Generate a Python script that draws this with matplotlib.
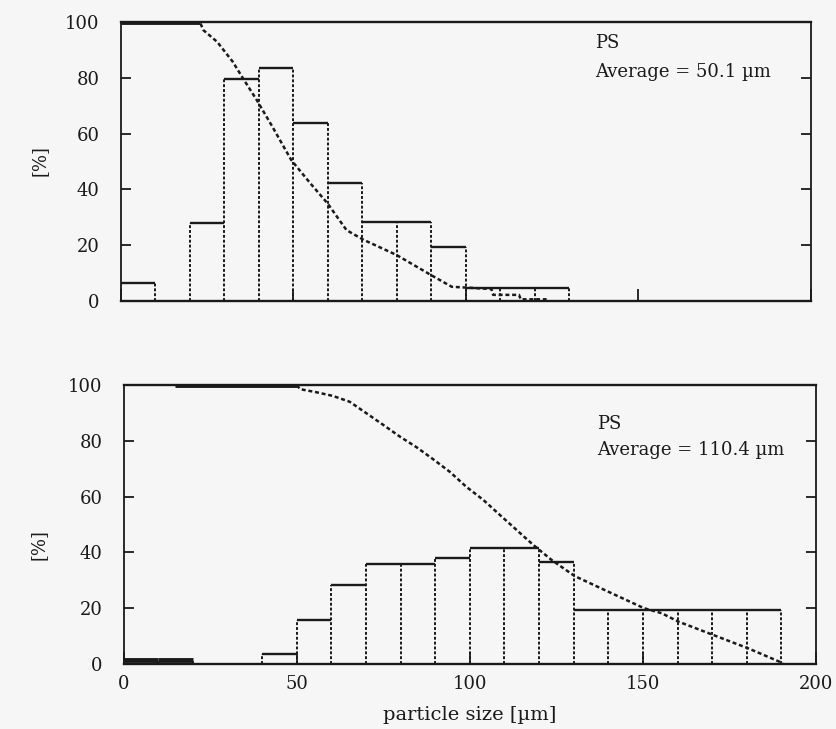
import matplotlib
matplotlib.use("Agg")
import matplotlib.pyplot as plt
import numpy as np

plt.rcParams['font.family'] = ['DejaVu Serif']

# top panel (average 50.1 um)
top_edges = [0, 10, 20, 30, 40, 50, 60, 70, 80, 90, 100, 110, 120, 130]
top_freq = [6.3, 0, 27.8, 79.6, 83.6, 63.7, 42.4, 28.4, 28.4, 19.2, 4.5, 4.5, 4.5]
top_cum_x = [0, 23, 24, 28, 32.5, 35.5, 39.5, 44, 49.5, 55, 60, 65.5, 70.5, 80,
             90, 96, 107.5, 108, 115.5, 116, 123.5]
top_cum_y = [100, 100, 97.1, 92.9, 85.8, 79.8, 72, 62.5, 50.5, 42.2, 35, 25.4,
             21.9, 16.5, 9.3, 5.1, 4.3, 2.2, 2.2, 0.6, 0.6]
top_avg = "Average = 50.1 µm"

# bottom panel (average 110.4 um)
bot_edges = [0, 10, 20, 30, 40, 50, 60, 70, 80, 90, 100, 110, 120, 130, 140,
             150, 160, 170, 180, 190]
bot_freq = [1.5, 1.5, 0, 0, 3.5, 15.8, 28.3, 35.8, 35.8, 38.1, 41.5, 41.5,
            36.7, 19.2, 19.2, 19.2, 19.2, 19.2, 19.2]
bot_cum_x = [15, 50, 51, 55.7, 60.4, 65.3, 70.1, 75, 79.8, 84.6, 89.4, 94.2,
             99, 103.9, 108.7, 118.3, 123.6, 130.3, 140, 150.3, 155.4, 160.2,
             170.3, 180.4, 190.4]
bot_cum_y = [100, 100, 98.5, 97.4, 96.1, 94, 89.9, 85.7, 81.5, 77.7, 73.4,
             68.9, 63.5, 58.8, 53.4, 42.7, 37.3, 31.5, 25.9, 20, 18.2, 15.2,
             10.4, 5.6, 0.3]
bot_avg = "Average = 110.4 µm"

INK = '#1a1a1a'
BG = '#f6f6f6'


def draw_hist(ax, edges, freq):
    # bar tops solid, bar sides dotted up to the taller neighbour
    for i, h in enumerate(freq):
        if h > 0:
            lw = 3.5 if h < 2 else 1.7
            ax.hlines(h, edges[i], edges[i + 1], color=INK, lw=lw)
    for i, x in enumerate(edges):
        left = freq[i - 1] if i > 0 else 0
        right = freq[i] if i < len(freq) else 0
        top = max(left, right)
        if top > 0:
            ax.vlines(x, 0, top, color=INK, lw=1.4, linestyles=(0, (1.5, 1.0)))


def draw_cum(ax, cx, cy):
    ax.plot(cx, cy, color=INK, lw=1.8, linestyle=(0, (1.6, 1.1)))
    ax.plot(cx[:2], cy[:2], color=INK, lw=3.5, solid_capstyle='butt')


def style_axes(ax, show_xlabels):
    ax.set_xlim(0, 200)
    ax.set_ylim(0, 100)
    ax.set_facecolor(BG)
    for side in ['top', 'bottom']:
        ax.spines[side].set_linewidth(1.7)
        ax.spines[side].set_color(INK)
    for side in ['left', 'right']:
        ax.spines[side].set_linewidth(1.3)
        ax.spines[side].set_color(INK)
        ax.spines[side].set_linestyle((0, (1.5, 1.0)))
    ax.set_yticks([0, 20, 40, 60, 80, 100])
    ax.set_xticks([0, 50, 100, 150, 200])
    ax.tick_params(axis='y', direction='in', length=7, width=1.3, left=True,
                   right=True, labelsize=13, pad=15, colors=INK)
    ax.tick_params(axis='x', direction='in', length=9, width=1.3, top=False,
                   labelsize=13, pad=8, colors=INK, labelbottom=show_xlabels)


fig = plt.figure(figsize=(8.37, 7.29), dpi=100, facecolor=BG)
ax_top = fig.add_axes([0.144, 0.5871, 0.8244, 0.3827])
ax_bot = fig.add_axes([0.1476, 0.0892, 0.8274, 0.3827])

draw_hist(ax_top, top_edges, top_freq)
draw_cum(ax_top, top_cum_x, top_cum_y)
style_axes(ax_top, False)
ax_top.text(137.5, 92.4, "PS", fontsize=13, va='center', ha='left', color=INK)
ax_top.text(137.5, 82.2, top_avg, fontsize=13, va='center', ha='left', color=INK)
ax_top.set_ylabel("[%]", fontsize=13, color=INK)
ax_top.yaxis.set_label_coords(-0.105, 0.505)

draw_hist(ax_bot, bot_edges, bot_freq)
draw_cum(ax_bot, bot_cum_x, bot_cum_y)
style_axes(ax_bot, True)
ax_bot.text(136.8, 86, "PS", fontsize=13, va='center', ha='left', color=INK)
ax_bot.text(136.8, 76.7, bot_avg, fontsize=13, va='center', ha='left', color=INK)
ax_bot.set_ylabel("[%]", fontsize=13, color=INK)
ax_bot.yaxis.set_label_coords(-0.11, 0.427)
ax_bot.set_xlabel("particle size [µm]", fontsize=14, color=INK, labelpad=9)

fig.savefig("out.png", dpi=100, facecolor=BG)
